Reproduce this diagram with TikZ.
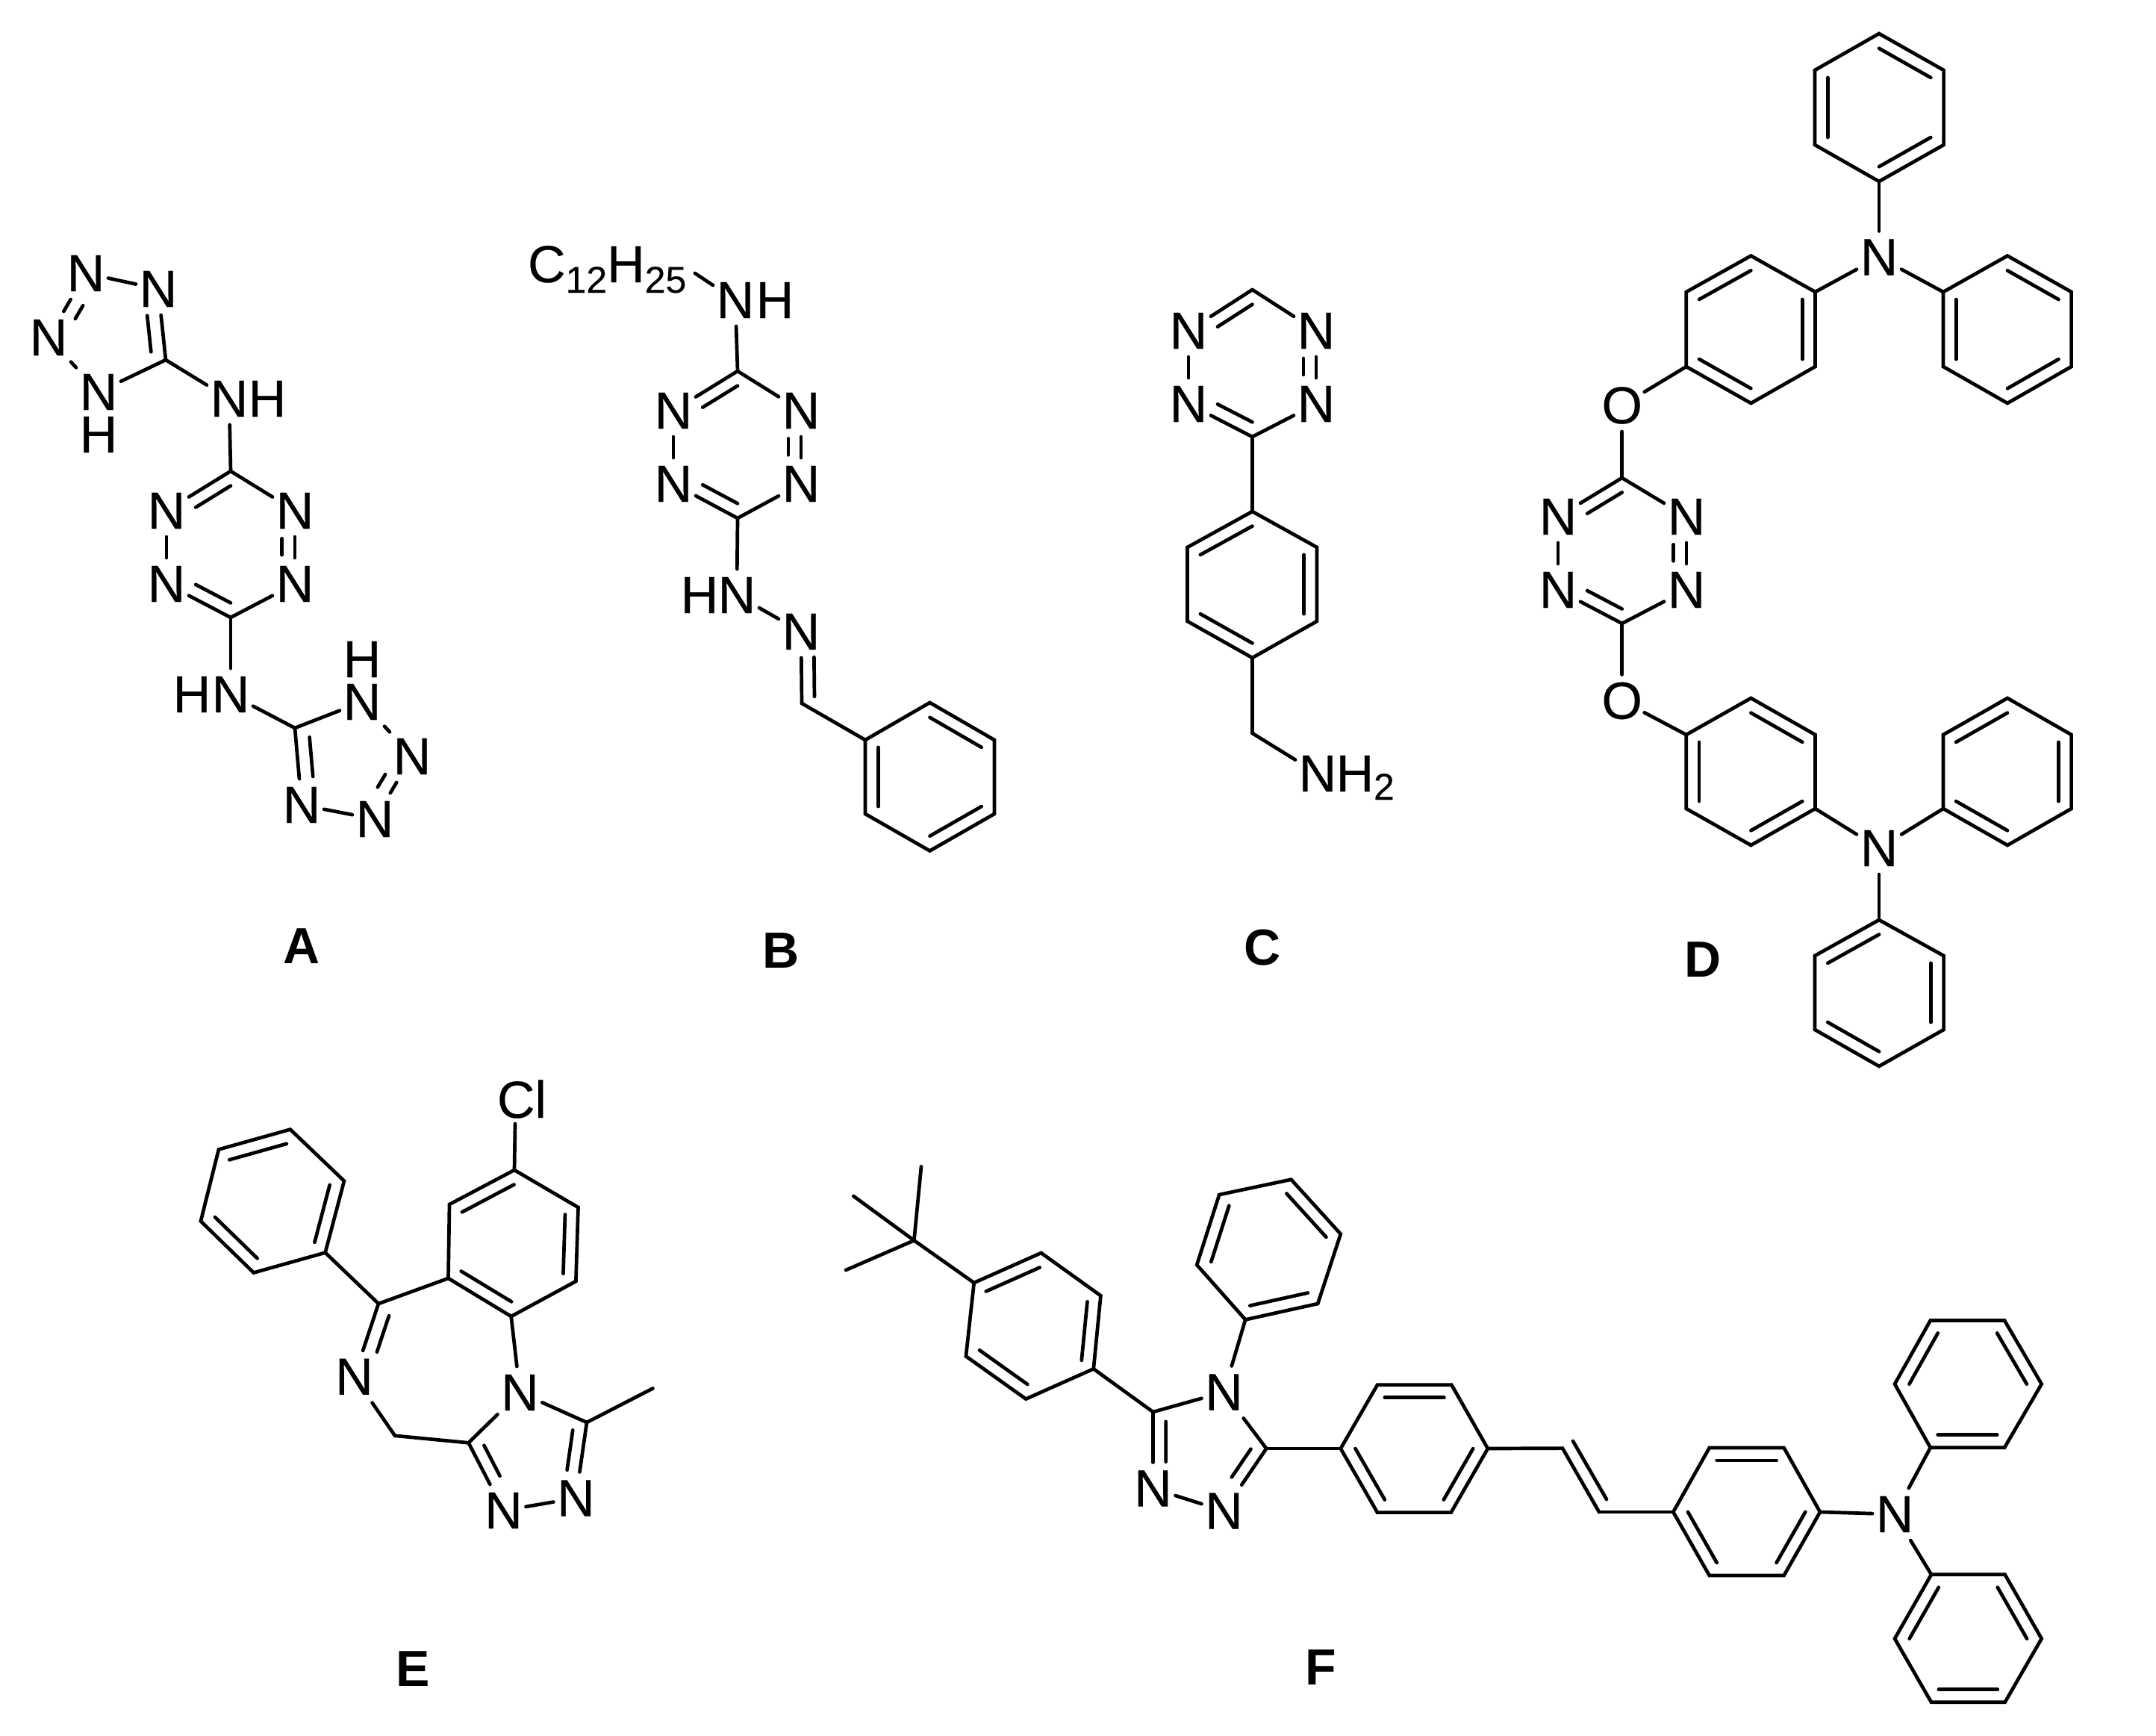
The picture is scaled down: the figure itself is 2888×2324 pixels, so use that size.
\documentclass[tikz,border=0pt]{standalone}
\usepackage{fontspec}
\setmainfont{Liberation Sans}
\newfontfamily\atomfamily[FakeBold=0.25]{Liberation Sans}
\usetikzlibrary{calc}
\tikzset{
  bond/.style={line width=4.7pt,line cap=round,line join=miter,black},
  atom/.style={rectangle,inner sep=0pt,outer sep=0pt,minimum width=60pt,minimum height=70pt,
    font=\atomfamily\fontsize{70}{70}\selectfont,text=black},
  hatom/.style={rectangle,inner sep=0pt,outer sep=0pt,
    font=\atomfamily\fontsize{70}{70}\selectfont,text=black},
  subs/.style={inner sep=0pt,outer sep=0pt,font=\atomfamily\fontsize{50}{50}\selectfont,text=black},
  lab/.style={inner sep=0pt,outer sep=0pt,font=\fontsize{68}{68}\selectfont\bfseries,text=black}
}
\newcommand\Cc[3]{\coordinate (#1) at (#2,#3);}
\newcommand\An[4]{\node[atom] (#1) at (#2,#3) {#4};}
\newcommand\bonds[1]{\foreach \a/\b in {#1}{\draw[bond] (\a) -- (\b);}}
% inner line of a double bond: the part f1..f2 of a--b, drawn nearer to the centre c
\newcommand\dbond[6][0.2]{\draw[bond] ($($(#2)!#5!(#3)$)!#1!(#4)$) -- ($($(#2)!#6!(#3)$)!#1!(#4)$);}
% six-membered carbon ring with double bonds 1-2, 3-4, 5-6
\newcommand\hexring[2]{%
  \foreach \xx/\yy [count=\i] in {#2}{\coordinate (#1\i) at (\xx,\yy);}
  \coordinate (#1c) at ($(#11)!.5!(#14)$);
  \draw[bond] (#11)--(#12)--(#13)--(#14)--(#15)--(#16)--cycle;
  \dbond{#11}{#12}{#1c}{0}{1}\dbond{#13}{#14}{#1c}{0}{1}\dbond{#15}{#16}{#1c}{0}{1}}
% tetrazine: 1 top C, 2 upper-left N, 3 upper-right N, 4 lower-left N, 5 lower-right N, 6 bottom C
\newcommand\tetrazine[1]{%
  \coordinate (#1c) at ($(#11)!.5!(#16)$);
  \bonds{#11/#12,#11/#13,#12/#14,#13/#15,#14/#16,#15/#16}
  \dbond{#11}{#12}{#1c}{0}{.68}\dbond{#13}{#15}{#1c}{.36}{.64}\dbond{#16}{#14}{#1c}{0}{.68}}
\begin{document}
\begin{tikzpicture}[x=1pt,y=-1pt]
\useasboundingbox (0,0) rectangle (2888,2324);
\fill[white] (0,0) rectangle (2888,2324);

% ---------- A ----------
\An{an1}{115}{366}{N}\An{an2}{212}{387}{N}\Cc{ac3}{222}{482}
\An{an4}{132}{525}{N}\An{an5}{65}{452}{N}
\node[hatom] (ah4) at (132,582) {H};
\An{an6}{307}{534}{N}\node[hatom] (ah6) at (358,534) {H};
\Cc{at1}{309}{631}\An{at2}{223}{684}{N}\An{at3}{395}{684}{N}
\An{at4}{223}{782}{N}\An{at5}{395}{782}{N}\Cc{at6}{309}{827}
\tetrazine{at}
\An{an7}{309}{930}{N}\node[hatom] (ah7) at (257,930) {H};
\Cc{ac8}{395}{975}\An{an9}{485}{940}{N}\node[hatom] (ah9) at (485,883) {H};
\An{an10}{552}{1013}{N}\An{an11}{502}{1097}{N}\An{an12}{404}{1078}{N}
\coordinate (ap1) at (149.2,442.4);
\coordinate (ap2) at (467.6,1020.6);
\bonds{an1/an2,an1/an5,an2/ac3,ac3/an4,an4/an5,ac3/an6,an6/at1,at6/an7,an7/ac8,
  ac8/an9,an9/an10,an10/an11,an11/an12,an12/ac8}
\dbond[.27]{ac3}{an2}{ap1}{0}{.7}
\dbond[.27]{an1}{an5}{ap1}{.36}{.64}
\dbond[.27]{ac8}{an12}{ap2}{0}{.7}
\dbond[.27]{an10}{an11}{ap2}{.36}{.64}
\node[lab] (la) at (404,1267) {A};

% ---------- B ----------
\node[hatom,anchor=base west] (b0) at (707,378)
  {C\raisebox{-14pt}{\fontsize{50}{50}\selectfont 12}H\raisebox{-14pt}{\fontsize{50}{50}\selectfont 25}};
\coordinate (b0e) at (931,366);
\An{bn1}{985}{402}{N}\node[hatom] (bh1) at (1038,402) {H};
\Cc{bt1}{988}{497}\An{bt2}{902}{550}{N}\An{bt3}{1073}{550}{N}
\An{bt4}{902}{648}{N}\An{bt5}{1073}{648}{N}\Cc{bt6}{988}{694}
\tetrazine{bt}
\An{bn2}{987}{797}{N}\node[hatom] (bh2) at (937,797) {H};
\An{bn3}{1073}{846}{N}\Cc{bc4}{1074}{942}
\coordinate (bdc) at (1244,894);
\hexring{br}{1245.5/941,1332/991,1332/1090,1245.5/1139.5,1159/1090,1159/991}
\bonds{b0e/bn1,bn1/bt1,bt6/bn2,bn2/bn3,bn3/bc4,bc4/br6}
\dbond[.1]{bc4}{bn3}{bdc}{.05}{.66}
\node[lab] (lb) at (1046.5,1273) {B};

% ---------- C ----------
\Cc{ct1}{1677.5}{388}\An{ct2}{1592}{443}{N}\An{ct3}{1763}{443}{N}
\An{ct4}{1592}{541}{N}\An{ct5}{1763}{541}{N}\Cc{ct6}{1677.5}{585}
\tetrazine{ct}
\hexring{cr}{1677.5/685,1590.5/733,1590.5/832,1677.5/881,1764/832,1764/733}
\Cc{cc1}{1677.5}{982}
\An{cn1}{1765}{1036}{N}\node[hatom] (ch1) at (1815,1036) {H};
\node[subs,anchor=base west] (cs1) at (1840,1071) {2};
\bonds{ct6/cr1,cr4/cc1,cc1/cn1}
\node[lab] (lc) at (1691.5,1268.6) {C};

% ---------- D ----------
\hexring{da}{2517/45,2603.6/94,2603.6/194,2517/243,2431/194,2431/94}
\An{dn1}{2517}{344.5}{N}
\hexring{db}{2258.8/391,2345.4/342.6,2431.5/391,2431.5/491,2345.4/540,2258.8/491}
\hexring{dc}{2689/342.6,2774.6/391,2774.6/491,2689/540,2603/491,2603/391}
\An{do1}{2172.7}{543}{O}
\Cc{dt1}{2172.7}{640}\An{dt2}{2087}{692}{N}\An{dt3}{2259}{692}{N}
\An{dt4}{2087}{790}{N}\An{dt5}{2259}{790}{N}\Cc{dt6}{2172.7}{835}
\tetrazine{dt}
\An{do2}{2172.7}{938.5}{O}
\hexring{dd}{2345.4/935,2431.5/984,2431.5/1083,2345.4/1132,2258.8/1083,2258.8/984}
\An{dn2}{2517}{1136}{N}
\hexring{de}{2603/984,2689/935,2774.6/984,2774.6/1083,2689/1132,2603/1083}
\hexring{df}{2431/1280,2517/1232,2603.6/1280,2603.6/1379,2517/1428,2431/1379}
\bonds{da4/dn1,dn1/db3,dn1/dc6,db6/do1,do1/dt1,dt6/do2,do2/dd6,dd3/dn2,dn2/de6,dn2/df2}
\node[lab] (ld) at (2281,1285) {D};

% ---------- E ----------
\hexring{ea}{602/1613,689/1567,774.5/1617,771.4/1716,684.7/1763,600.5/1712}
\hexring{eb}{435.7/1677.6,461/1581.6,388.8/1512.6,292.9/1539.5,268.9/1635.5,339.8/1704.5}
\node[atom] (ecl) at (699,1472) {Cl};
\coordinate (eclb) at (690,1505);
\Cc{ec7}{507}{1746}\An{en1}{474.5}{1843.7}{N}\Cc{ec2}{529}{1922.8}
\Cc{ec3}{627.6}{1932.3}\An{en2}{696.4}{1865}{N}\Cc{ec4}{786}{1905}
\An{en3}{771.4}{2006.4}{N}\An{en4}{674.5}{2023}{N}\Cc{eme}{874.5}{1859.4}
\coordinate (e7c) at (590,1840);
\coordinate (e5c) at (711,1946.5);
\bonds{ea2/eclb,eb1/ec7,ec7/ea6,ec7/en1,en1/ec2,ec2/ec3,ec3/en2,en2/ea5,en2/ec4,
  ec4/en3,en3/en4,en4/ec3,ec4/eme}
\dbond[.17]{ec7}{en1}{e7c}{0}{.6}
\dbond[.25]{ec3}{en4}{e5c}{0}{.6}
\dbond[.25]{ec4}{en3}{e5c}{0}{.7}
\node[lab] (le) at (553,2235) {E};

% ---------- F ----------
\Cc{fq}{1224.4}{1661.3}\Cc{fm1}{1234}{1562.3}\Cc{fm2}{1143.4}{1602}\Cc{fm3}{1133}{1701}
\hexring{fa}{1304.7/1718,1394.6/1678,1474.4/1735.3,1464.8/1833.3,1374.2/1873.6,1293.9/1816.4}
\Cc{fc1}{1544.5}{1891}\An{fn1}{1639.5}{1864.4}{N}\Cc{fc2}{1696.3}{1940}
\An{fn2}{1639.5}{2023.6}{N}\An{fn3}{1544.5}{1993.5}{N}
\coordinate (f5c) at (1613,1942.6);
\hexring{fb}{1668.2/1767.4,1765.2/1746,1795.8/1652.7,1729.5/1579.7,1633.2/1600,1603.2/1694}
\hexring{fr}{1845/1854.7,1944.4/1854.7,1992.9/1940,1943.7/2025.6,1845/2025.6,1795.8/1940}
\Cc{fv1}{2093}{1939.6}\Cc{fv2}{2142}{2025}
\Cc{fv3}{2107}{1930}\Cc{fv4}{2152}{2008}
\hexring{fs}{2289.7/1939,2389.6/1939,2438/2025,2389.6/2110,2289.7/2110,2241.3/2025}
\An{fn4}{2538}{2028}{N}
\hexring{ft}{2585.8/1938.8,2685/1938.8,2734.7/1853.6,2685/1768.4,2585.8/1768.4,2538/1853.6}
\hexring{fu}{2538/2194.6,2587/2108.7,2685.6/2108.7,2734.7/2194.6,2685.6/2279.8,2587/2279.8}
\bonds{fq/fm1,fq/fm2,fq/fm3,fq/fa1,fa4/fc1,fc1/fn1,fn1/fc2,fc2/fn2,fn2/fn3,fn3/fc1,
  fn1/fb1,fc2/fr6,fr3/fv1,fv1/fv2,fv3/fv4,fv2/fs6,fs3/fn4,fn4/ft1,fn4/fu2}
\dbond[.25]{fc1}{fn3}{f5c}{0}{.7}
\dbond[.25]{fc2}{fn2}{f5c}{0}{.6}
\node[lab] (lf) at (1769.6,2233) {F};
\end{tikzpicture}
\end{document}
